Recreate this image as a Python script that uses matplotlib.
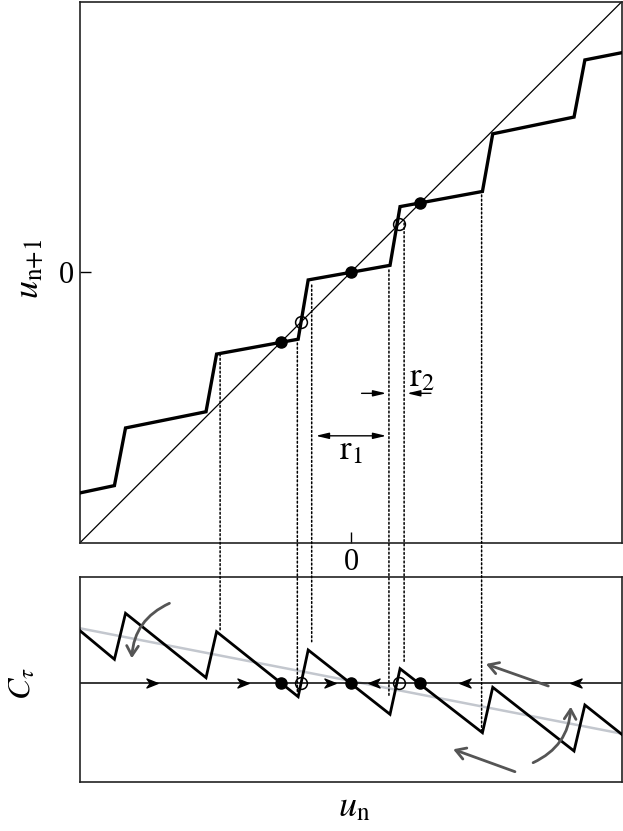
import numpy as np
import matplotlib
matplotlib.use('Agg')
import matplotlib.pyplot as plt
from matplotlib.path import Path
from matplotlib.patches import ConnectionPatch

plt.rcParams['mathtext.fontset'] = 'stix'
plt.rcParams['font.family'] = ['Liberation Serif', 'DejaVu Serif']

#---------- top panel: map u_n -> u_n+1 ----------
stair_x = [-1.0, -0.873, -0.832, -0.535, -0.496, -0.195, -0.158, 0.144, 0.181, 0.485, 0.523, 0.823, 0.863, 1.0]
stair_y = [-0.816, -0.789, -0.576, -0.516, -0.303, -0.248, -0.029, 0.025, 0.242, 0.298, 0.511, 0.573, 0.784, 0.811]
stable_u = [-0.258, 0.0, 0.256]     # filled dots
unstable_u = [-0.183, 0.176]        # open circles

#---------- bottom panel: C_tau ----------
zig_y = [0.52, 0.234, 0.694, 0.05, 0.51, -0.14, 0.327, -0.316, 0.14, -0.50, -0.046, -0.683, -0.223, -0.518]
trend_x = [-1.0, 1.0]
trend_y = [0.544, -0.51]
flow_right = [-0.736, -0.397, -0.078]
flow_left = [0.084, 0.42, 0.831]

# dotted guides linking the two panels
guide_x = [-0.483, -0.198, -0.145, 0.140, 0.196, 0.482]
guide_top = [-0.303, -0.262, -0.048, 0.008, 0.181, 0.285]
guide_bot = [0.527, -0.10, 0.41, -0.14, 0.20, -0.48]

fig = plt.figure(figsize=(6.23, 8.31), dpi=100)
ax1 = fig.add_axes([80/623, 1-542.7/831, 542/623, 541.2/831])
ax2 = fig.add_axes([80/623, 1-781.7/831, 542/623, 205/831])

for ax in (ax1, ax2):
    for sp in ax.spines.values():
        sp.set_linewidth(1.2)
        sp.set_color('#222222')

# top
ax1.plot([-1, 1], [-1, 1], color='k', lw=0.9, zorder=2)
ax1.plot(stair_x, stair_y, color='k', lw=2.4, zorder=3, solid_joinstyle='miter')
ax1.plot(stable_u, stable_u, 'o', color='k', ms=8, zorder=5)
ax1.plot(unstable_u, unstable_u, 'o', mfc='none', mec='k', mew=1.1, ms=8.5, zorder=5)
ax1.set_xlim(-1, 1)
ax1.set_ylim(-1, 1)
ax1.set_xticks([0])
ax1.set_yticks([0])
ax1.tick_params(direction='in', length=8, width=1, labelsize=22, pad=4)

# r1 / r2 markers
hs = '-|>,head_width=0.13,head_length=0.55'
ax1.annotate('', xy=(0.130, -0.605), xytext=(-0.130, -0.605),
             arrowprops=dict(arrowstyle='<|-|>,head_width=0.13,head_length=0.55', lw=1,
                             color='k', shrinkA=0, shrinkB=0, mutation_scale=14))
ax1.annotate('', xy=(0.130, -0.448), xytext=(0.039, -0.448),
             arrowprops=dict(arrowstyle=hs, lw=1, color='k', shrinkA=0, shrinkB=0,
                             mutation_scale=14))
ax1.annotate('', xy=(0.207, -0.448), xytext=(0.295, -0.448),
             arrowprops=dict(arrowstyle=hs, lw=1, color='k', shrinkA=0, shrinkB=0,
                             mutation_scale=14))
ax1.text(0.0, -0.66, r'$\mathrm{r}_1$', fontsize=25, ha='center', va='center')
ax1.text(0.262, -0.39, r'$\mathrm{r}_2$', fontsize=25, ha='center', va='center')

# bottom
ax2.plot(trend_x, trend_y, color='#c3c7ce', lw=1.8, zorder=1)
ax2.axhline(0, color='k', lw=1.1, zorder=2)
ax2.plot(stair_x, zig_y, color='k', lw=2.0, zorder=3, solid_joinstyle='miter')
ax2.plot(stable_u, np.zeros(len(stable_u)), 'o', color='k', ms=8, zorder=5)
ax2.plot(unstable_u, np.zeros(len(unstable_u)), 'o', mfc='none', mec='k', mew=1.1, ms=8.5, zorder=5)

head_r = Path([(1, 0), (-1, 0.8), (-0.4, 0), (-1, -0.8), (1, 0)],
              [Path.MOVETO, Path.LINETO, Path.LINETO, Path.LINETO, Path.CLOSEPOLY])
head_l = Path([(-1, 0), (1, 0.8), (0.4, 0), (1, -0.8), (-1, 0)],
              [Path.MOVETO, Path.LINETO, Path.LINETO, Path.LINETO, Path.CLOSEPOLY])
ax2.plot(flow_right, np.zeros(3), ls='none', marker=head_r, ms=8, color='k', zorder=4)
ax2.plot(flow_left, np.zeros(3), ls='none', marker=head_l, ms=8, color='k', zorder=4)

gray = '#555555'
astyle = '->,head_width=0.3,head_length=0.5'
ax2.annotate('', xy=(-0.809, 0.244), xytext=(-0.670, 0.794),
             arrowprops=dict(arrowstyle=astyle, lw=2, color=gray, mutation_scale=14,
                             shrinkA=0, shrinkB=0, connectionstyle='arc3,rad=0.3'))
ax2.annotate('', xy=(0.811, -0.24), xytext=(0.672, -0.80),
             arrowprops=dict(arrowstyle=astyle, lw=2, color=gray, mutation_scale=14,
                             shrinkA=0, shrinkB=0, connectionstyle='arc3,rad=0.3'))
ax2.annotate('', xy=(0.498, 0.187), xytext=(0.728, -0.033),
             arrowprops=dict(arrowstyle=astyle, lw=2, color=gray, mutation_scale=14,
                             shrinkA=0, shrinkB=0))
ax2.annotate('', xy=(0.377, -0.666), xytext=(0.605, -0.89),
             arrowprops=dict(arrowstyle=astyle, lw=2, color=gray, mutation_scale=14,
                             shrinkA=0, shrinkB=0))

ax2.set_xlim(-1, 1)
ax2.set_ylim(-0.99, 1.06)
ax2.set_xticks([])
ax2.set_yticks([])

for gx, gt, gb in zip(guide_x, guide_top, guide_bot):
    con = ConnectionPatch(xyA=(gx, gt), coordsA=ax1.transData,
                          xyB=(gx, gb), coordsB=ax2.transData,
                          color='k', lw=1.1, linestyle=(0, (1.2, 1.6)), zorder=1)
    fig.add_artist(con)

fig.text(29.5/623, 1-269/831, r'$u_{\mathrm{n{+}1}}$', fontsize=26, rotation=90,
         ha='center', va='center')
fig.text(23.5/623, 1-683.5/831, r'$C_\tau$', fontsize=23, rotation=90,
         ha='center', va='center')
fig.text(354/623, 1-808/831, r'$u_{\mathrm{n}}$', fontsize=26, ha='center', va='center')

fig.savefig('out.png', dpi=100)
